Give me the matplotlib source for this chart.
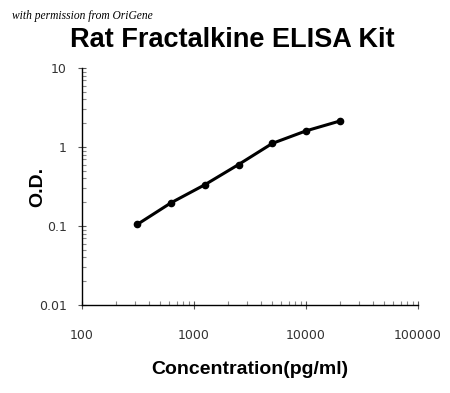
import matplotlib
matplotlib.use("Agg")
import matplotlib.pyplot as plt
from matplotlib.ticker import LogLocator, NullFormatter

conc = [312.5, 625, 1250, 2500, 5000, 10000, 20000]
od = [0.105, 0.197, 0.333, 0.60, 1.11, 1.6, 2.13]
xticks = [100, 1000, 10000, 100000]
xticklabels = ["100", "1000", "10000", "100000"]
yticks = [0.01, 0.1, 1, 10]
yticklabels = ["0.01", "0.1", "1", "10"]

fig = plt.figure(figsize=(4.5, 3.93), dpi=100)
ax = fig.add_axes([82/450, 1-305/393, (418-82)/450, (305-68)/393])
ax.plot(conc, od, color="black", lw=2.2, marker="o", ms=4.5)
ax.set_xscale("log")
ax.set_yscale("log")
ax.set_xlim(100, 100000)
ax.set_ylim(0.01, 10)
ax.set_xticks(xticks)
ax.set_xticklabels(xticklabels)
ax.set_yticks(yticks)
ax.set_yticklabels(yticklabels)
ax.xaxis.set_minor_locator(LogLocator(base=10, subs=range(2, 10)))
ax.yaxis.set_minor_locator(LogLocator(base=10, subs=range(2, 10)))
ax.xaxis.set_minor_formatter(NullFormatter())
ax.yaxis.set_minor_formatter(NullFormatter())
for s in ["top", "right"]:
    ax.spines[s].set_visible(False)
for s in ["left", "bottom"]:
    ax.spines[s].set_linewidth(1.0)
ax.tick_params(which="major", direction="inout", length=6, width=0.8, colors="#555555", labelcolor="#333333", labelsize=9, pad=14)
ax.tick_params(which="minor", direction="in", length=3, width=0.8, colors="#888888")
ax.tick_params(axis="y", which="major", pad=8)

ax.set_xlabel("Concentration(pg/ml)", fontsize=14, fontweight="bold", family="Liberation Sans", labelpad=14)
ax.set_ylabel("O.D.", fontsize=14, fontweight="bold", family="Liberation Sans", labelpad=0)
ax.yaxis.set_label_coords(-36/336, 0.5)

fig.text(232/450, 1-40/393, "Rat Fractalkine ELISA Kit", ha="center", va="center",
         fontsize=19.5, fontweight="bold", family="Liberation Sans")
fig.text(12/450, 1-16/393, "with permission from OriGene", ha="left", va="center",
         fontsize=8.3, style="italic", family="Liberation Serif")

fig.savefig("out.png", dpi=100)
